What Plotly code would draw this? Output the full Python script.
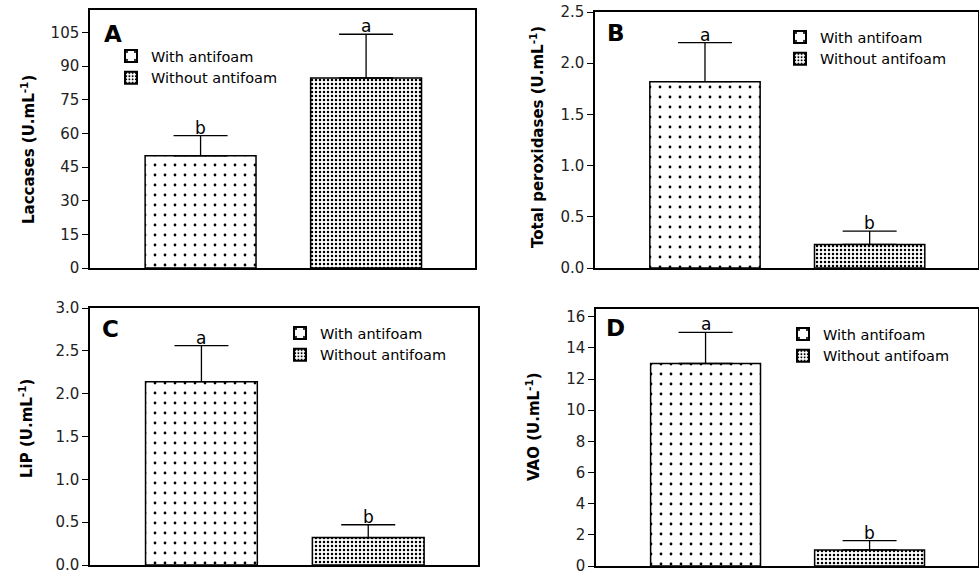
import plotly.graph_objects as go

# ---- data ----
groups = ["With antifoam", "Without antifoam"]
xpos = [0, 1]
laccases = [50.0, 84.7]
laccases_err = [9.0, 19.5]
laccases_letters = ["b", "a"]
peroxidases = [1.82, 0.23]
peroxidases_err = [0.38, 0.13]
peroxidases_letters = ["a", "b"]
lip = [2.14, 0.32]
lip_err = [0.42, 0.15]
lip_letters = ["a", "b"]
vao = [13.0, 1.03]
vao_err = [2.0, 0.6]
vao_letters = ["a", "b"]

panels = [
    dict(name="A", vals=laccases, errs=laccases_err, letters=laccases_letters,
         title="Laccases (U.mL<sup>-1</sup>)", yrange=[0, 115], dtick=15, fmt="d",
         xdom=[90/979, 475/979], ydom=[1-268/571, 1-10/571],
         title_xy=(28, 150), legend_xy=(111, 40), letter_x=0.03, letter_shift=-4),
    dict(name="B", vals=peroxidases, errs=peroxidases_err, letters=peroxidases_letters,
         title="Total peroxidases (U.mL<sup>-1</sup>)", yrange=[0, 2.5], dtick=0.5, fmt=".1f",
         xdom=[595/979, 978/979], ydom=[1-268/571, 1-12/571],
         title_xy=(537, 137), legend_xy=(780, 21), letter_x=0.025, letter_shift=-1),
    dict(name="C", vals=lip, errs=lip_err, letters=lip_letters,
         title="LiP (U.mL<sup>-1</sup>)", yrange=[0, 3.0], dtick=0.5, fmt=".1f",
         xdom=[90/979, 478/979], ydom=[1-565/571, 1-308/571],
         title_xy=(26, 429), legend_xy=(280, 317), letter_x=0.025, letter_shift=-1),
    dict(name="D", vals=vao, errs=vao_err, letters=vao_letters,
         title="VAO (U.mL<sup>-1</sup>)", yrange=[0, 16.5], dtick=2, fmt="d",
         xdom=[596/979, 977.5/979], ydom=[1-566/571, 1-309/571],
         title_xy=(533, 427), legend_xy=(783, 318), letter_x=0.022, letter_shift=1),
]

W, H = 979, 571
FONT = "'DejaVu Sans', Verdana, sans-serif"
patterns = [dict(shape=".", size=10, solidity=0.06, fgcolor="black", bgcolor="white", fillmode="replace"),
            dict(shape=".", size=4, solidity=0.3, fgcolor="black", bgcolor="white", fillmode="replace")]

fig = go.Figure()
annotations = []
layout = {}
for i, p in enumerate(panels):
    k = "" if i == 0 else str(i + 1)
    xa, ya = "x" + k, "y" + k
    leg = "legend" + k
    for j in range(2):
        fig.add_trace(go.Bar(
            x=[xpos[j]], y=[p["vals"][j]], name=groups[j], width=0.67,
            xaxis=xa, yaxis=ya, legend=leg,
            marker=dict(color="white", pattern=patterns[j],
                        line=dict(color="black", width=1.5)),
            error_y=dict(type="data", symmetric=False, array=[p["errs"][j]], arrayminus=[0],
                         color="black", thickness=1.3, width=27),
        ))
        annotations.append(dict(
            x=xpos[j], y=p["vals"][j] + p["errs"][j], xref=xa, yref=ya,
            text=p["letters"][j], showarrow=False, yanchor="bottom", yshift=-4,
            font=dict(family=FONT, size=17, color="black")))
    layout["xaxis" + k] = dict(domain=p["xdom"], anchor=ya, range=[-0.668, 1.658],
                               automargin=False,
                               showticklabels=False, ticks="", showgrid=False, zeroline=False,
                               showline=True, linecolor="black", linewidth=1.5, mirror=True)
    layout["yaxis" + k] = dict(domain=p["ydom"], anchor=xa, range=p["yrange"], dtick=p["dtick"],
                               automargin=False, ticklabeloverflow="allow",
                               tick0=0, tickformat=p["fmt"], ticks="outside", ticklen=6,
                               tickwidth=1.3, tickcolor="black", showgrid=False, zeroline=False,
                               showline=True, linecolor="black", linewidth=1.5, mirror=True,
                               tickfont=dict(family=FONT, size=15, color="#222"))
    lx, ly = p["legend_xy"]
    layout[leg] = dict(x=lx / W, y=1 - ly / H, xanchor="left", yanchor="top",
                       bgcolor="rgba(0,0,0,0)", font=dict(family=FONT, size=14.5, color="black"),
                       tracegroupgap=0, itemsizing="constant")
    tx, ty = p["title_xy"]
    annotations.append(dict(x=tx / W, y=1 - ty / H, xref="paper", yref="paper",
                            text="<b>" + p["title"] + "</b>", textangle=-90, showarrow=False,
                            xanchor="center", yanchor="middle",
                            font=dict(family=FONT, size=15, color="black")))
    annotations.append(dict(x=p["letter_x"], y=0.98, xref=xa + " domain", yref=ya + " domain",
                            text="<b>" + p["name"] + "</b>", showarrow=False,
                            xanchor="left", yanchor="top", yshift=p["letter_shift"],
                            font=dict(family=FONT, size=23, color="black")))

fig.update_layout(width=W, height=H, margin=dict(l=0, r=0, t=0, b=0),
                  paper_bgcolor="white", plot_bgcolor="white", barmode="overlay",
                  showlegend=True, annotations=annotations, **layout)
fig.write_html("out.html")
